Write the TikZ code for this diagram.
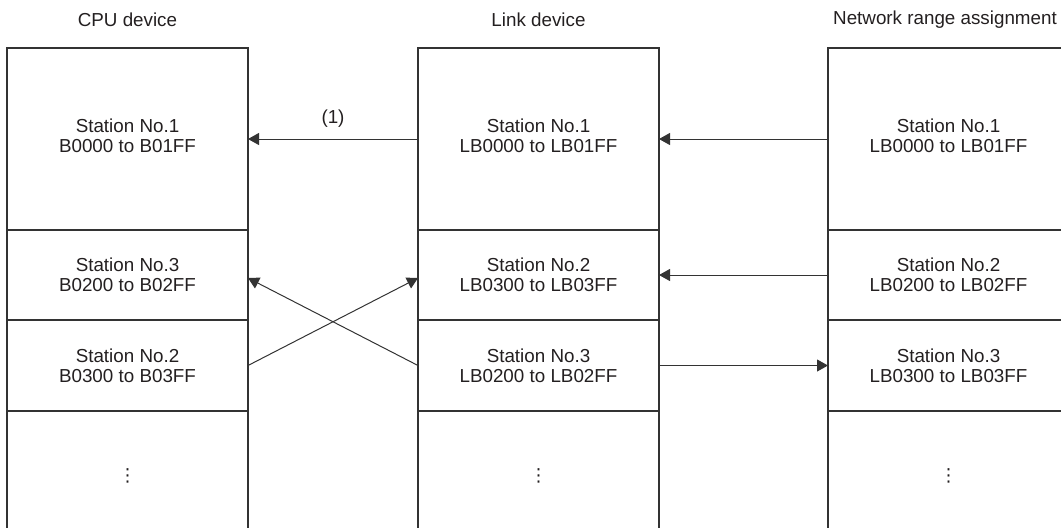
\documentclass[tikz,border=0pt]{standalone}
\usepackage{fontspec}
\setmainfont{Liberation Sans}
\newfontfamily\dotsfont{DejaVu Sans}
\usetikzlibrary{arrows.meta, positioning}
\definecolor{mygray}{RGB}{51,51,51}
\definecolor{mytext}{RGB}{35,31,32}

\begin{document}
\begin{tikzpicture}[x=0.5pt, y=-0.5pt,
    cell/.style={draw=mygray, line width=0.65pt, minimum width=120.5pt, inner sep=0pt, outer sep=0pt,
                 align=center, text=mytext, font=\fontsize{9.4}{10}\selectfont},
    head/.style={text=mytext, font=\fontsize{9.4}{10}\selectfont},
    conn/.style={draw=mygray, line width=0.5pt, -{Triangle[length=5.5pt,width=6pt]}}]
  \clip (0,0) rectangle (1061,527);
  % column headers
  \node[head] (cpuhead) at (127.5,20) {CPU device};
  \node[head] (linkhead) at (538.5,20) {Link device};
  \node[head] (nethead) at (945,20) {Network range assignment};
  % CPU device
  \node[cell, minimum height=91pt] (cpu1) at (127.5,139) {Station No.1\\B0000 to B01FF\rule[-3pt]{0pt}{3pt}};
  \node[cell, minimum height=45pt, below=0pt of cpu1] (cpu2) {Station No.3\\B0200 to B02FF};
  \node[cell, minimum height=45.5pt, below=0pt of cpu2] (cpu3) {Station No.2\\B0300 to B03FF};
  \node[cell, minimum height=65pt, below=0pt of cpu3] (cpu4) {{\dotsfont\fontsize{9}{9}\selectfont ⋮}};
  % link device
  \node[cell, minimum height=91pt] (link1) at (538.5,139) {Station No.1\\LB0000 to LB01FF\rule[-3pt]{0pt}{3pt}};
  \node[cell, minimum height=45pt, below=0pt of link1] (link2) {Station No.2\\LB0300 to LB03FF};
  \node[cell, minimum height=45.5pt, below=0pt of link2] (link3) {Station No.3\\LB0200 to LB02FF};
  \node[cell, minimum height=65pt, below=0pt of link3] (link4) {{\dotsfont\fontsize{9}{9}\selectfont ⋮}};
  % network range assignment
  \node[cell, minimum height=91pt] (net1) at (948.5,139) {Station No.1\\LB0000 to LB01FF\rule[-3pt]{0pt}{3pt}};
  \node[cell, minimum height=45pt, below=0pt of net1] (net2) {Station No.2\\LB0200 to LB02FF};
  \node[cell, minimum height=45.5pt, below=0pt of net2] (net3) {Station No.3\\LB0300 to LB03FF};
  \node[cell, minimum height=65pt, below=0pt of net3] (net4) {{\dotsfont\fontsize{9}{9}\selectfont ⋮}};
  % refresh
  \draw[conn] (link1.west) -- (cpu1.east) node[midway, above=2pt, head] (lbl1) {(1)};
  \draw[conn] (cpu3.east) -- ([yshift=-1.5pt]link2.west);
  \draw[conn] (link3.west) -- ([yshift=-1.5pt]cpu2.east);
  % assignment
  \draw[conn] (net1.west) -- (link1.east);
  \draw[conn] (net2.west) -- (link2.east);
  \draw[conn] (link3.east) -- (net3.west);
\end{tikzpicture}
\end{document}
